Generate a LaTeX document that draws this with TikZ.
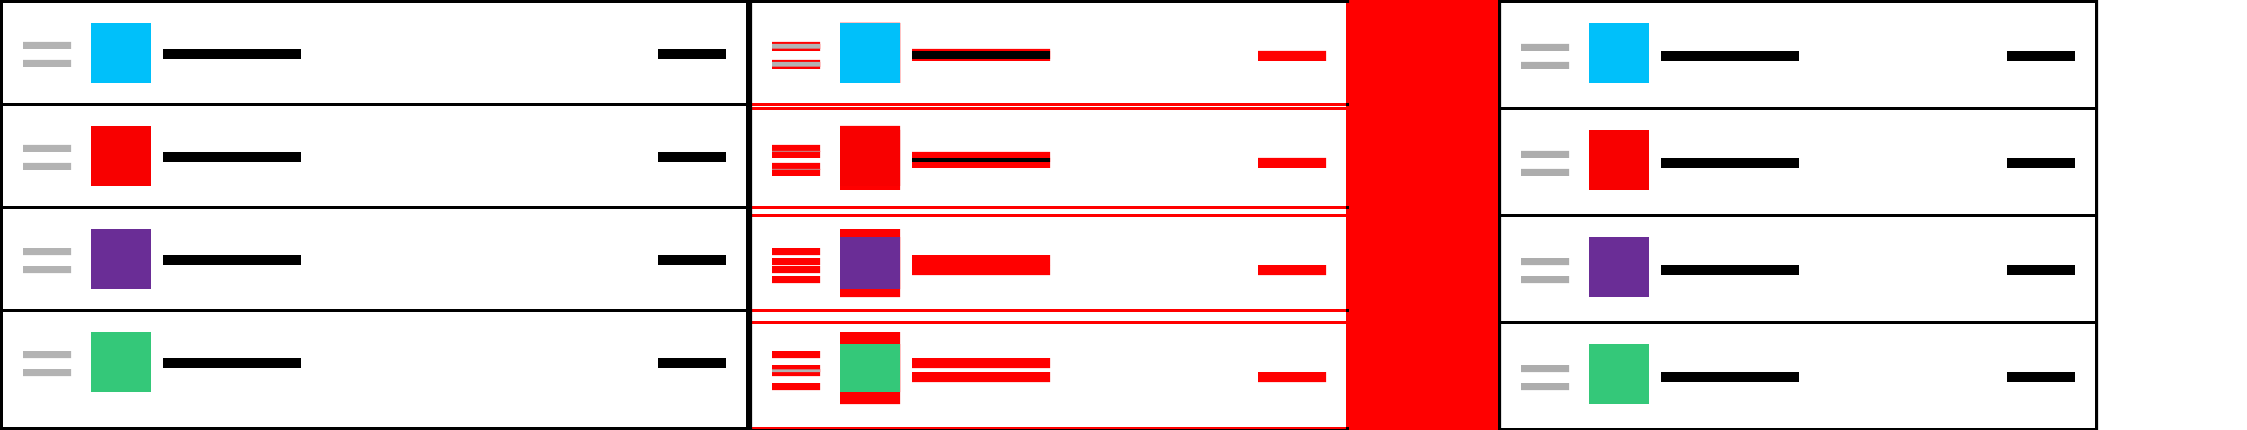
\documentclass[tikz,border=0pt]{standalone}
\usepackage{xcolor}
\definecolor{handleA}{RGB}{179,179,179}
\definecolor{handleB}{RGB}{173,173,173}
\definecolor{tileblue}{RGB}{0,192,250}
\definecolor{tilered}{RGB}{248,0,0}
\definecolor{tilepurple}{RGB}{106,45,150}
\definecolor{tilegreen}{RGB}{52,200,121}
\definecolor{diffred}{RGB}{255,0,0}

\begin{document}
\begin{tikzpicture}[x=0.1mm, y=-0.1mm,
  frame/.style={fill=black},
  diff/.style={fill=diffred}]
  \useasboundingbox[fill=white] (0,0) rectangle (2247,430);

  % expected panel (rows 103 high)
  \foreach \c [count=\r from 0] in {tileblue,tilered,tilepurple,tilegreen} {
    \pgfmathsetmacro{\etop}{103*\r}
    \fill[handleA] (23,\etop+42) rectangle (71,\etop+49)
                   (23,\etop+60) rectangle (71,\etop+67);
    \fill[\c] (91,\etop+23) rectangle (151,\etop+83);
    \fill[black] (163,\etop+49) rectangle (301,\etop+59);
    \fill[black] (658,\etop+49) rectangle (726,\etop+59);
  }
  \fill[frame] (0,0) rectangle (749,3) (0,0) rectangle (3,430)
               (746,0) rectangle (749,430) (0,427) rectangle (749,430);
  \foreach \y in {103,206,309}
    \fill[frame] (0,\y) rectangle (749,\y+3);

  % actual panel (rows 107 high)
  \foreach \c [count=\r from 0] in {tileblue,tilered,tilepurple,tilegreen} {
    \pgfmathsetmacro{\atop}{107*\r}
    \fill[handleB] (1521,\atop+44) rectangle (1569,\atop+51)
                   (1521,\atop+62) rectangle (1569,\atop+69);
    \fill[\c] (1589,\atop+23) rectangle (1649,\atop+83);
    \fill[black] (1661,\atop+51) rectangle (1799,\atop+61);
    \fill[black] (2007,\atop+51) rectangle (2075,\atop+61);
  }
  \fill[frame] (1498,0) rectangle (2098,3) (1498,0) rectangle (1501,430)
               (2095,0) rectangle (2098,430) (1498,428) rectangle (2098,430);
  \foreach \y in {107,214,321}
    \fill[frame] (1498,\y) rectangle (2098,\y+3);

  % diff panel: red where the two differ
  \foreach \c [count=\r from 0] in {tileblue,tilered,tilepurple,tilegreen} {
    \pgfmathsetmacro{\etop}{103*\r}
    \pgfmathsetmacro{\atop}{107*\r}
    \fill[diff] (772,\etop+42) rectangle (820,\etop+49)
                (772,\etop+60) rectangle (820,\etop+67)
                (840,\etop+23) rectangle (900,\etop+83)
                (912,\etop+49) rectangle (1050,\etop+59);
    \fill[diff] (772,\atop+44) rectangle (820,\atop+51)
                (772,\atop+62) rectangle (820,\atop+69)
                (840,\atop+23) rectangle (900,\atop+83)
                (912,\atop+51) rectangle (1050,\atop+61)
                (1258,\atop+51) rectangle (1326,\atop+61);
    % overlaps keep their colour
    \begin{scope}
      \clip (772,\etop+42.3) rectangle (820,\etop+48.7)
            (772,\etop+60.3) rectangle (820,\etop+66.7);
      \fill[handleA] (772,\atop+44) rectangle (820,\atop+51)
                     (772,\atop+62) rectangle (820,\atop+69);
    \end{scope}
    \begin{scope}
      \clip (840,\etop+23.3) rectangle (900,\etop+82.7);
      \fill[\c] (840,\atop+23) rectangle (900,\atop+83);
    \end{scope}
    \begin{scope}
      \clip (912,\etop+49.3) rectangle (1050,\etop+58.7);
      \fill[black] (912,\atop+51) rectangle (1050,\atop+61);
    \end{scope}
  }
  \foreach \y in {103,206,309,107,214,321}
    \fill[diff] (752,\y) rectangle (1346,\y+3);
  \fill[diff] (752,427) rectangle (1346,429);
  \fill[frame] (752,429) rectangle (1346,430);
  \fill[diff] (1346,0) rectangle (1498,430);
  \fill[frame] (749,0) rectangle (1349,3) (746,0) rectangle (752,430);
  \foreach \y in {103,206,309,427}
    \fill[frame] (1346,\y) rectangle (1349,\y+3);
\end{tikzpicture}
\end{document}
